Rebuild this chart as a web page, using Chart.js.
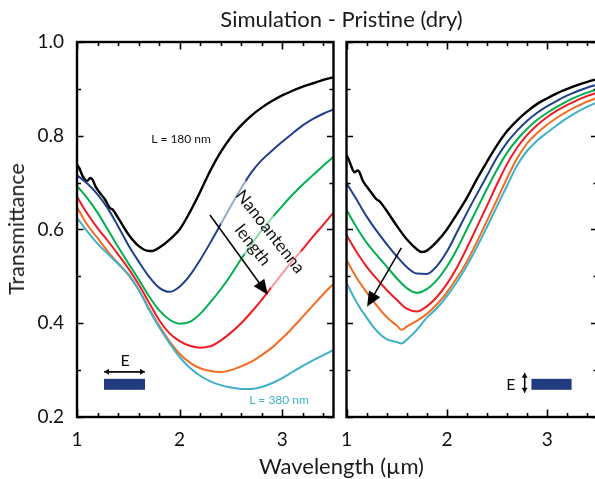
<!DOCTYPE html>
<html>
<head>
<meta charset="utf-8">
<script src="https://cdn.jsdelivr.net/npm/chart.js@4.4.1/dist/chart.umd.min.js"></script>
<style>
  html, body { margin:0; padding:0; background:#fff; }
  body { width:595px; height:479px; overflow:hidden; position:relative; font-family:Lato, sans-serif; color:#1a1a1a; }
  canvas { position:absolute; top:0; }
  #c1 { left:0; }
  #c2 { left:330px; }
  .lbl { position:absolute; white-space:nowrap; font-family:Lato, sans-serif; color:#1a1a1a; }
  #title { left:0; width:683px; top:5px; text-align:center; font-size:22px; }
  #xlab { left:0; width:683px; top:452px; text-align:center; font-size:22px; }
  #ylab { left:16px; top:229px; font-size:21.5px; transform:translate(-50%,-50%) rotate(-90deg); }
</style>
</head>
<body>
<canvas id="c1" width="340" height="479"></canvas>
<canvas id="c2" width="275" height="479"></canvas>
<div class="lbl" id="title">Simulation - Pristine (dry)</div>
<div class="lbl" id="xlab">Wavelength (µm)</div>
<div class="lbl" id="ylab">Transmittance</div>
<script>
// ---------------- data ----------------
const xTicks = [1, 2, 3];
const yTicks = [0.2, 0.4, 0.6, 0.8, 1.0];
const lengths = ["L = 180 nm", "L = 380 nm"];

// Left panel: E field along the antenna
const wlGrid = [1.0,1.1,1.2,1.3,1.4,1.5,1.6,1.7,1.8,1.9,2.0,2.1,2.2,2.3,2.4,2.5,2.6,2.7,2.8,2.9,3.0,3.1,3.2,3.3,3.4,3.5];
const wlBlackL = [1.00,1.02,1.05,1.08,1.10,1.13,1.15,1.18,1.22,1.27,1.32,1.35,1.38,1.42,1.5,1.6,1.7,1.75,1.8,1.9,2.0,2.1,2.2,2.3,2.4,2.5,2.6,2.7,2.8,2.9,3.0,3.1,3.2,3.3,3.4,3.5];
const blackL  = [0.738,0.732,0.716,0.706,0.704,0.710,0.707,0.692,0.679,0.665,0.646,0.642,0.632,0.618,0.590,0.565,0.554,0.555,0.561,0.578,0.600,0.637,0.680,0.726,0.765,0.797,0.822,0.843,0.860,0.874,0.886,0.896,0.905,0.912,0.919,0.925];
const blueL   = [0.716,0.698,0.675,0.645,0.607,0.567,0.532,0.500,0.476,0.467,0.478,0.502,0.535,0.572,0.611,0.650,0.688,0.722,0.748,0.768,0.787,0.805,0.822,0.836,0.847,0.856];
const greenL  = [0.693,0.667,0.636,0.600,0.563,0.528,0.494,0.458,0.428,0.408,0.399,0.403,0.420,0.445,0.472,0.503,0.537,0.568,0.598,0.625,0.650,0.674,0.696,0.716,0.736,0.755];
const redL    = [0.670,0.634,0.603,0.576,0.547,0.517,0.483,0.445,0.407,0.379,0.362,0.352,0.348,0.351,0.363,0.380,0.400,0.424,0.450,0.478,0.506,0.533,0.558,0.585,0.610,0.636];
const orangeL = [0.648,0.610,0.582,0.553,0.528,0.503,0.472,0.432,0.395,0.362,0.335,0.316,0.304,0.298,0.296,0.300,0.308,0.318,0.332,0.348,0.368,0.390,0.414,0.438,0.462,0.484];
const cyanL   = [0.625,0.596,0.570,0.548,0.527,0.505,0.472,0.430,0.392,0.358,0.328,0.305,0.288,0.276,0.268,0.263,0.260,0.260,0.264,0.272,0.283,0.296,0.309,0.321,0.332,0.343];

// Right panel: E field across the antenna
const wlBlackR = [1.00,1.03,1.06,1.08,1.11,1.13,1.16,1.2,1.25,1.3,1.33,1.36,1.4,1.5,1.6,1.7,1.75,1.8,1.9,2.0,2.1,2.2,2.3,2.4,2.5,2.6,2.7,2.8,2.9,3.0,3.1,3.2,3.3,3.4,3.5];
const blackR  = [0.759,0.745,0.728,0.722,0.726,0.722,0.705,0.692,0.678,0.664,0.660,0.652,0.640,0.608,0.579,0.558,0.552,0.555,0.574,0.600,0.633,0.668,0.708,0.745,0.780,0.810,0.833,0.852,0.868,0.880,0.891,0.900,0.908,0.915,0.921];
const blueR   = [0.699,0.664,0.628,0.597,0.569,0.543,0.520,0.506,0.505,0.522,0.553,0.594,0.636,0.676,0.715,0.754,0.786,0.811,0.832,0.849,0.863,0.875,0.886,0.895,0.903,0.909];
const greenR  = [0.642,0.605,0.572,0.546,0.521,0.496,0.475,0.465,0.473,0.492,0.521,0.558,0.601,0.644,0.687,0.728,0.764,0.792,0.815,0.834,0.849,0.862,0.874,0.884,0.892,0.899];
const redR    = [0.588,0.552,0.521,0.495,0.471,0.450,0.431,0.425,0.436,0.456,0.484,0.519,0.561,0.606,0.651,0.697,0.740,0.775,0.802,0.823,0.840,0.854,0.866,0.876,0.885,0.892];
const wlKinkR = [1.0,1.1,1.2,1.3,1.4,1.5,1.55,1.6,1.7,1.8,1.9,2.0,2.1,2.2,2.3,2.4,2.5,2.6,2.7,2.8,2.9,3.0,3.1,3.2,3.3,3.4,3.5];
const orangeR = [0.535,0.497,0.466,0.438,0.413,0.395,0.386,0.393,0.405,0.420,0.440,0.466,0.497,0.532,0.574,0.619,0.664,0.710,0.752,0.784,0.806,0.824,0.839,0.852,0.863,0.873,0.881];
const cyanR   = [0.486,0.445,0.412,0.384,0.366,0.360,0.357,0.365,0.386,0.412,0.432,0.458,0.488,0.523,0.563,0.606,0.650,0.694,0.737,0.768,0.790,0.807,0.823,0.838,0.851,0.862,0.872];

// ---------------- styles ----------------
const COLORS = { black:'#000000', blue:'#213f8f', green:'#00b04f', red:'#ee1c25', orange:'#f36c21', cyan:'#3eb1c8' };
const FONT = 'Lato, sans-serif';

function pts(xs, ys) { return xs.map((x, i) => ({ x: x, y: ys[i] })); }
function ds(xs, ys, color, w) {
  return { data: pts(xs, ys), borderColor: color, borderWidth: w || 2, pointRadius: 0, fill: false, cubicInterpolationMode: 'monotone' };
}

function arrowHead(ctx, x0, y0, x1, y1, len, half) {
  const a = Math.atan2(y1 - y0, x1 - x0);
  ctx.beginPath();
  ctx.moveTo(x1, y1);
  ctx.lineTo(x1 - len * Math.cos(a) + half * Math.sin(a), y1 - len * Math.sin(a) - half * Math.cos(a));
  ctx.lineTo(x1 - len * Math.cos(a) - half * Math.sin(a), y1 - len * Math.sin(a) + half * Math.cos(a));
  ctx.closePath();
  ctx.fill();
}
function arrow(ctx, x0, y0, x1, y1, len, half, lw) {
  const a = Math.atan2(y1 - y0, x1 - x0);
  ctx.lineWidth = lw;
  ctx.beginPath();
  ctx.moveTo(x0, y0);
  ctx.lineTo(x1 - len * 0.8 * Math.cos(a), y1 - len * 0.8 * Math.sin(a));
  ctx.stroke();
  arrowHead(ctx, x0, y0, x1, y1, len, half);
}
function dblArrow(ctx, x0, y0, x1, y1) {
  arrow(ctx, x0, y0, x1, y1, 5, 3, 1.3);
  arrow(ctx, x1, y1, x0, y0, 5, 3, 1.3);
}

const framePlugin = {
  id: 'frame',
  afterDraw(chart) {
    const { ctx, chartArea: { left, right, top, bottom }, scales: { x, y } } = chart;
    ctx.save();
    ctx.strokeStyle = '#000';
    ctx.lineWidth = 1.6;
    ctx.beginPath();
    for (let i = 0; i <= 12; i++) {
      const v = 1 + i * 0.2;
      const major = Math.abs(v - Math.round(v)) < 1e-6;
      const L = major ? 7.5 : 4;
      const px = Math.round(x.getPixelForValue(v)) + 0.5;
      ctx.moveTo(px, bottom); ctx.lineTo(px, bottom - L);
      ctx.moveTo(px, top); ctx.lineTo(px, top + L);
    }
    for (let i = 0; i <= 8; i++) {
      const v = 0.2 + i * 0.1;
      const L = (i % 2 === 0) ? 6.5 : 4;
      const py = Math.round(y.getPixelForValue(v)) + 0.5;
      ctx.moveTo(left, py); ctx.lineTo(left + L, py);
      ctx.moveTo(right, py); ctx.lineTo(right - L, py);
    }
    ctx.stroke();
    ctx.lineWidth = 2.4;
    ctx.strokeRect(left, top, right - left, bottom - top);
    ctx.restore();
  }
};

const leftNotes = {
  id: 'leftNotes',
  afterDatasetsDraw(chart) {
    const { ctx, scales: { x, y } } = chart;
    const P = (a, b) => [x.getPixelForValue(a), y.getPixelForValue(b)];
    ctx.save();
    const [tx, ty] = P(2.798, 0.581);
    ctx.translate(tx, ty);
    ctx.rotate(52 * Math.PI / 180);
    ctx.fillStyle = 'rgba(255,255,255,0.55)';
    ctx.fillRect(-62, -23, 124, 46);
    ctx.fillStyle = '#111';
    ctx.font = '17px ' + FONT;
    ctx.textAlign = 'center';
    ctx.textBaseline = 'middle';
    ctx.fillText('Nanoantenna', 0, -11);
    ctx.fillText('length', 0, 11);
    ctx.restore();

    ctx.save();
    ctx.fillStyle = '#000'; ctx.strokeStyle = '#000';
    const [a0x, a0y] = P(2.296, 0.631), [a1x, a1y] = P(2.86, 0.461);
    arrow(ctx, a0x, a0y, a1x, a1y, 15, 6.5, 1.5);

    ctx.font = '12px ' + FONT;
    ctx.textAlign = 'center'; ctx.textBaseline = 'middle';
    let p = P(2.014, 0.793);
    ctx.fillStyle = '#111'; ctx.fillText(lengths[0], p[0], p[1]);
    p = P(2.969, 0.237);
    ctx.fillStyle = COLORS.cyan; ctx.fillText(lengths[1], p[0], p[1]);

    ctx.fillStyle = '#111';
    ctx.font = '16px ' + FONT;
    p = P(1.468, 0.320);
    ctx.fillText('E', p[0], p[1]);
    const [e0x, e0y] = P(1.263, 0.2964), [e1x] = P(1.663, 0.2964);
    dblArrow(ctx, e0x, e0y, e1x, e0y);
    const [r0x, r0y] = P(1.263, 0.2814), [r1x, r1y] = P(1.663, 0.258);
    ctx.fillStyle = '#213a80';
    ctx.fillRect(r0x, r0y, r1x - r0x, r1y - r0y);
    ctx.restore();
  }
};

const rightNotes = {
  id: 'rightNotes',
  afterDatasetsDraw(chart) {
    const { ctx, scales: { x, y } } = chart;
    const P = (a, b) => [x.getPixelForValue(a), y.getPixelForValue(b)];
    ctx.save();
    ctx.fillStyle = '#000'; ctx.strokeStyle = '#000';
    const [a0x, a0y] = P(1.546, 0.561), [a1x, a1y] = P(1.205, 0.435);
    arrow(ctx, a0x, a0y, a1x, a1y, 15, 6.5, 1.5);

    ctx.fillStyle = '#111';
    ctx.font = '16px ' + FONT;
    ctx.textAlign = 'center'; ctx.textBaseline = 'middle';
    let p = P(2.637, 0.2687);
    ctx.fillText('E', p[0], p[1]);
    const [v0x, v0y] = P(2.774, 0.2942), [, v1y] = P(2.774, 0.2516);
    dblArrow(ctx, v0x, v0y, v0x, v1y);
    const [r0x, r0y] = P(2.842, 0.2814), [r1x, r1y] = P(3.242, 0.258);
    ctx.fillStyle = '#213a80';
    ctx.fillRect(r0x, r0y, r1x - r0x, r1y - r0y);
    ctx.restore();
  }
};

function makeOptions(showY, padding) {
  return {
    responsive: false,
    animation: false,
    devicePixelRatio: 1,
    layout: { padding: padding },
    plugins: { legend: { display: false }, tooltip: { enabled: false }, title: { display: false } },
    scales: {
      x: {
        type: 'linear', min: 1, max: 3.5,
        grid: { display: false, drawTicks: false },
        border: { display: false },
        afterBuildTicks: s => { s.ticks = xTicks.map(v => ({ value: v })); },
        ticks: { padding: 11, color: '#111', font: { family: FONT, size: 19 }, maxRotation: 0, autoSkip: false,
                 callback: v => String(v) },
        afterFit: s => { s.height = 62; }
      },
      y: {
        type: 'linear', min: 0.2, max: 1.0,
        grid: { display: false, drawTicks: false },
        border: { display: false },
        afterBuildTicks: s => { s.ticks = yTicks.map(v => ({ value: v })); },
        ticks: { display: showY, padding: 13, color: '#111', font: { family: FONT, size: 19 },
                 callback: v => Number(v).toFixed(1) },
        afterFit: s => { s.width = showY ? 77 : 0; }
      }
    }
  };
}

new Chart(document.getElementById('c1'), {
  type: 'line',
  data: { datasets: [
    ds(wlGrid, cyanL, COLORS.cyan),
    ds(wlGrid, orangeL, COLORS.orange),
    ds(wlGrid, redL, COLORS.red),
    ds(wlGrid, greenL, COLORS.green),
    ds(wlGrid, blueL, COLORS.blue),
    ds(wlBlackL, blackL, COLORS.black, 2.4)
  ] },
  options: makeOptions(true, { left: 0, right: 6.5, top: 42, bottom: 0 }),
  plugins: [leftNotes, framePlugin]
});

new Chart(document.getElementById('c2'), {
  type: 'line',
  data: { datasets: [
    ds(wlKinkR, cyanR, COLORS.cyan),
    ds(wlKinkR, orangeR, COLORS.orange),
    ds(wlGrid, redR, COLORS.red),
    ds(wlGrid, greenR, COLORS.green),
    ds(wlGrid, blueR, COLORS.blue),
    ds(wlBlackR, blackR, COLORS.black, 2.4)
  ] },
  options: makeOptions(false, { left: 11, right: 7.5, top: 42, bottom: 0 }),
  plugins: [rightNotes, framePlugin]
});
</script>
</body>
</html>
